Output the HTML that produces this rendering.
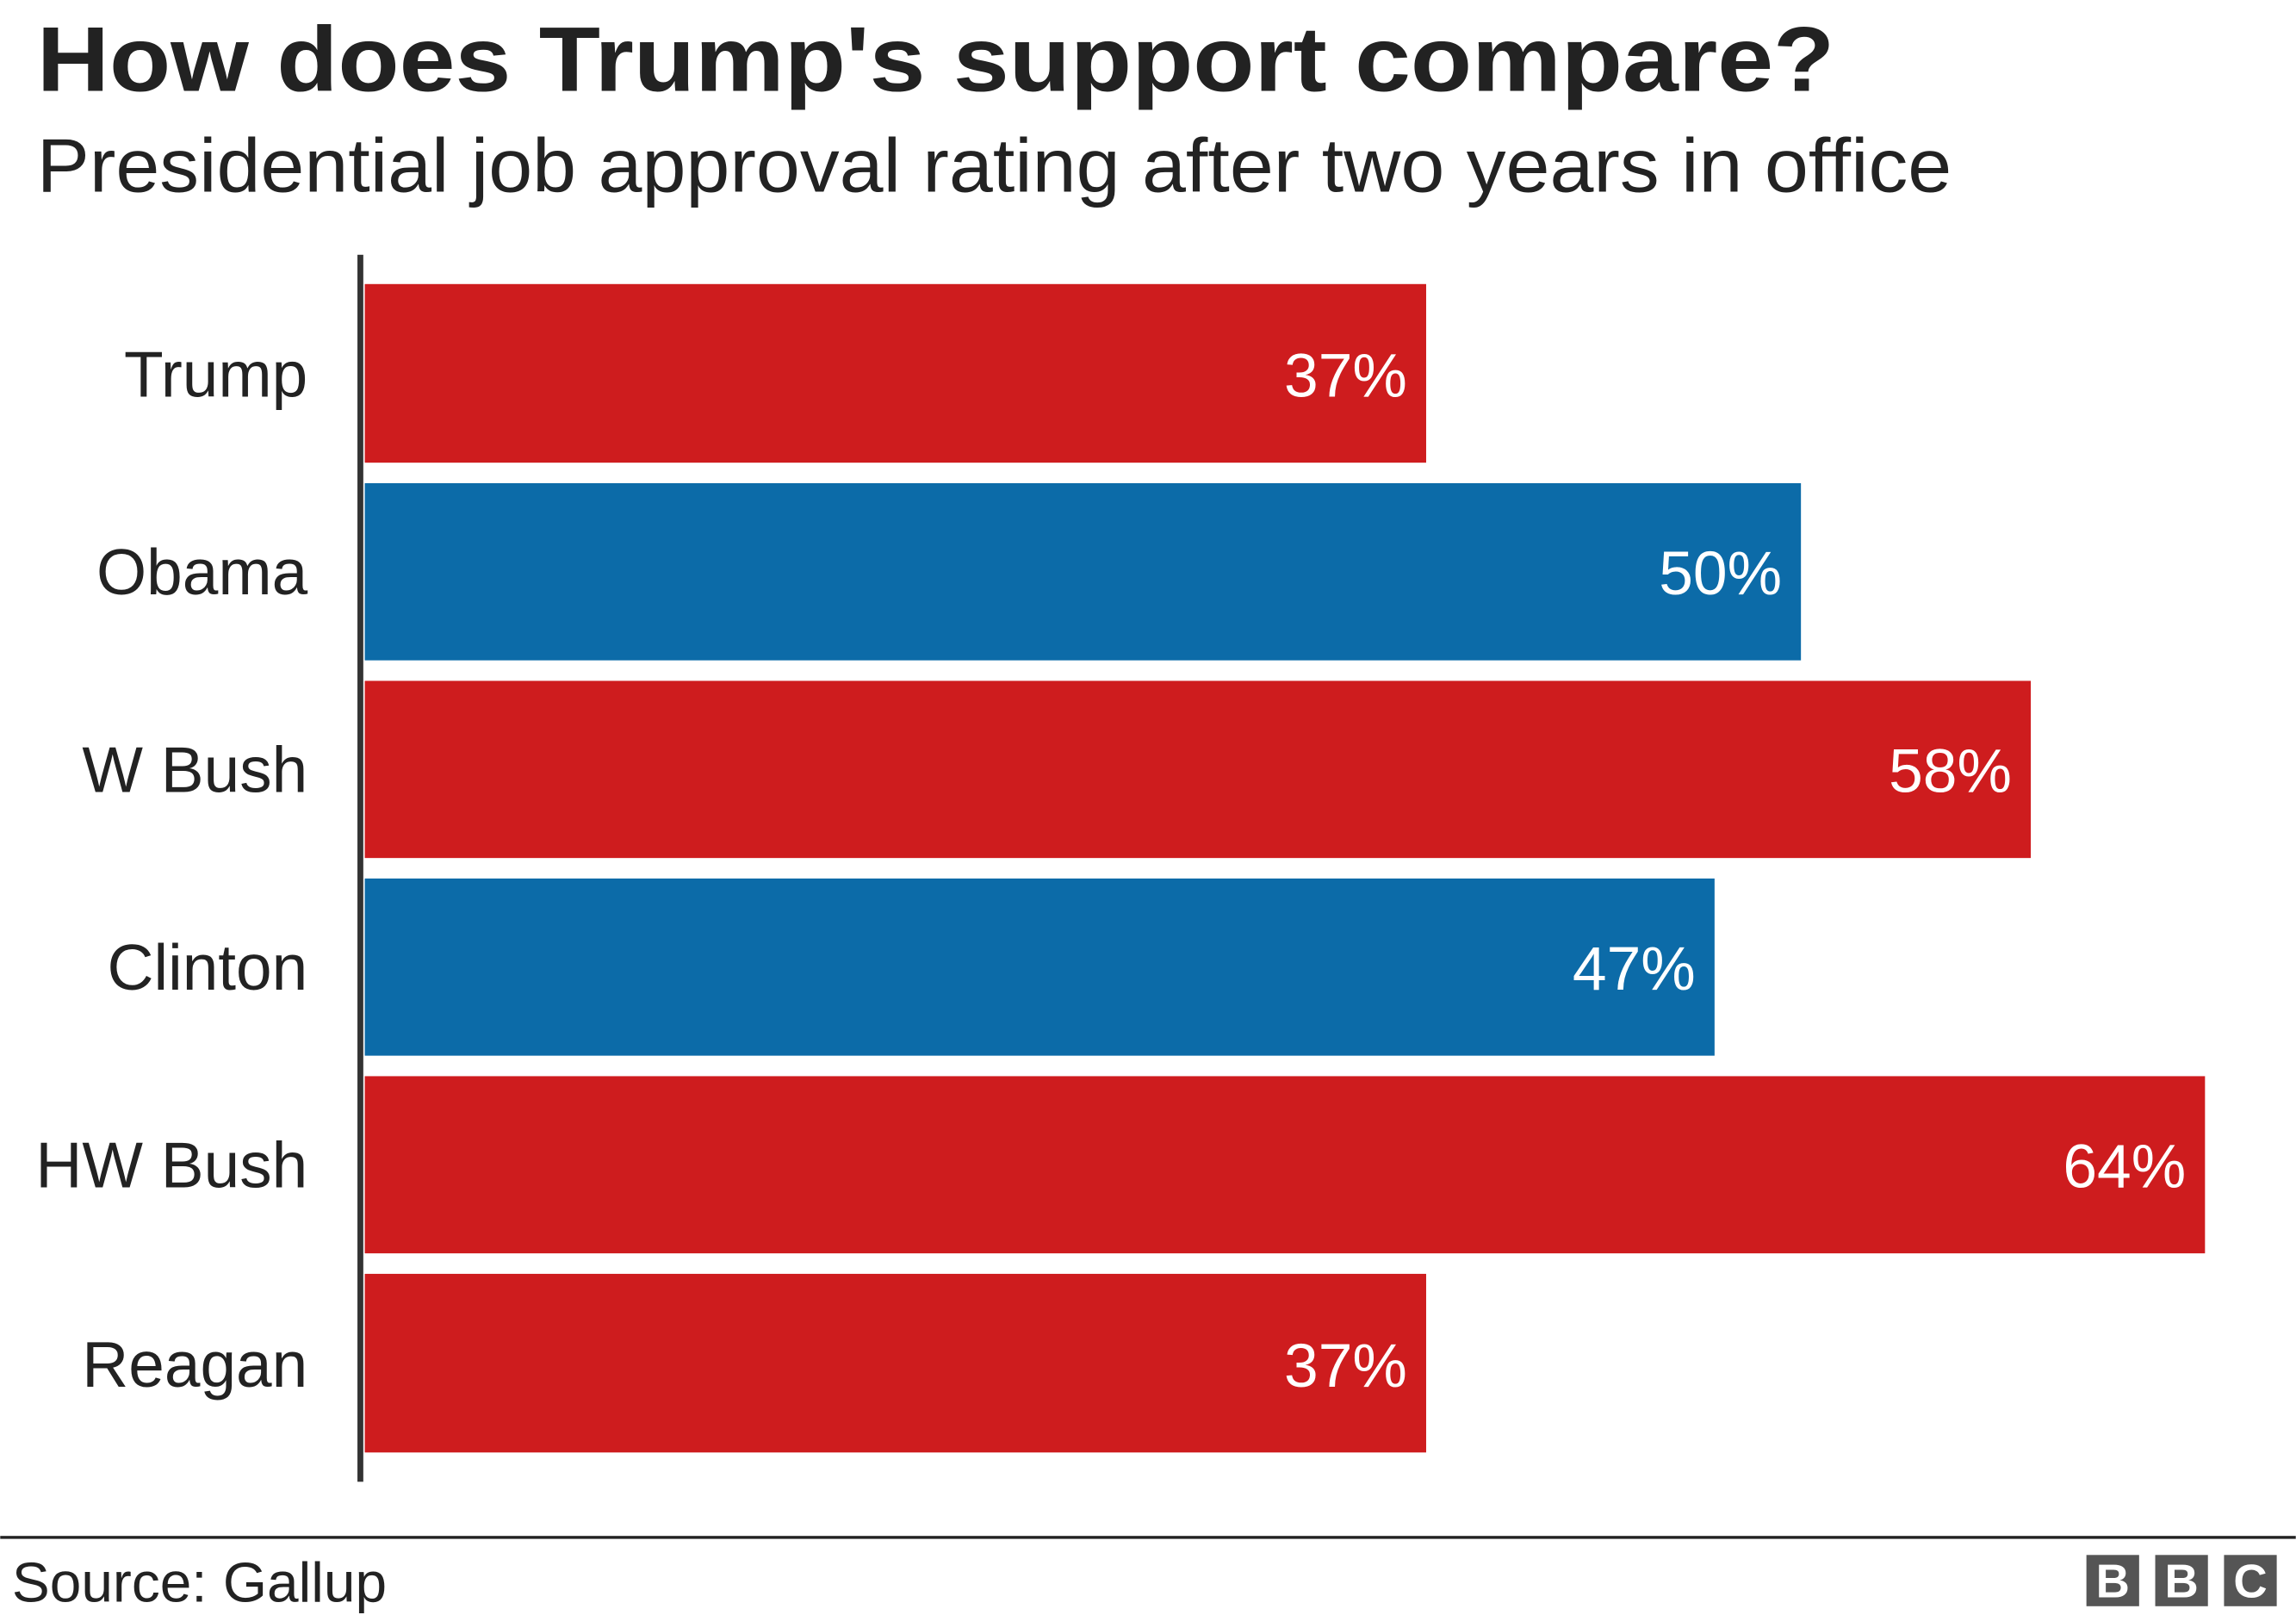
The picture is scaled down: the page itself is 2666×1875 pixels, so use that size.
<!DOCTYPE html>
<html><head><meta charset="utf-8"><style>
html,body{margin:0;padding:0;background:#fff;}
svg{display:block;}
text{font-family:"Liberation Sans",Arial,sans-serif;}
</style></head><body>
<svg width="2666" height="1875" viewBox="0 0 1568 1103" xmlns="http://www.w3.org/2000/svg">
<rect width="1568" height="1103" fill="#fff"/>
<text x="25" y="62" font-size="63" font-weight="bold" fill="#222" textLength="1228" lengthAdjust="spacingAndGlyphs">How does Trump's support compare?</text>
<text x="25" y="131" font-size="52" fill="#222" textLength="1308" lengthAdjust="spacingAndGlyphs">Presidential job approval rating after two years in office</text>
<g>
<rect x="249" y="194" width="725" height="122" fill="#CE1C1E"/>
<rect x="249" y="330" width="981" height="121" fill="#0C6BA8"/>
<rect x="249" y="465" width="1138" height="121" fill="#CE1C1E"/>
<rect x="249" y="600" width="922" height="121" fill="#0C6BA8"/>
<rect x="249" y="735" width="1257" height="121" fill="#CE1C1E"/>
<rect x="249" y="870" width="725" height="122" fill="#CE1C1E"/>
</g>
<rect x="244" y="174" width="4" height="838" fill="#333"/>
<g font-size="44" fill="#222" text-anchor="end">
<text x="210" y="271">Trump</text>
<text x="210" y="406">Obama</text>
<text x="210" y="541">W Bush</text>
<text x="210" y="676">Clinton</text>
<text x="210" y="811">HW Bush</text>
<text x="210" y="947">Reagan</text>
</g>
<g font-size="42" fill="#fff" text-anchor="end">
<text x="961" y="271">37%</text>
<text x="1217" y="406">50%</text>
<text x="1374" y="541">58%</text>
<text x="1158" y="676">47%</text>
<text x="1493" y="811">64%</text>
<text x="961" y="947">37%</text>
</g>
<rect x="0" y="1049" width="1568" height="2" fill="#222"/>
<text x="8" y="1094" font-size="38" fill="#222" textLength="256" lengthAdjust="spacingAndGlyphs">Source: Gallup</text>
<g>
<rect x="1425" y="1062" width="36" height="35" fill="#555"/>
<rect x="1472" y="1062" width="36" height="35" fill="#555"/>
<rect x="1519" y="1062" width="36" height="35" fill="#555"/>
<g font-size="32" font-weight="bold" fill="#fff" text-anchor="middle">
<text x="1443" y="1091">B</text>
<text x="1490" y="1091">B</text>
<text x="1537" y="1091">C</text>
</g>
</g>
</svg>
</body></html>
